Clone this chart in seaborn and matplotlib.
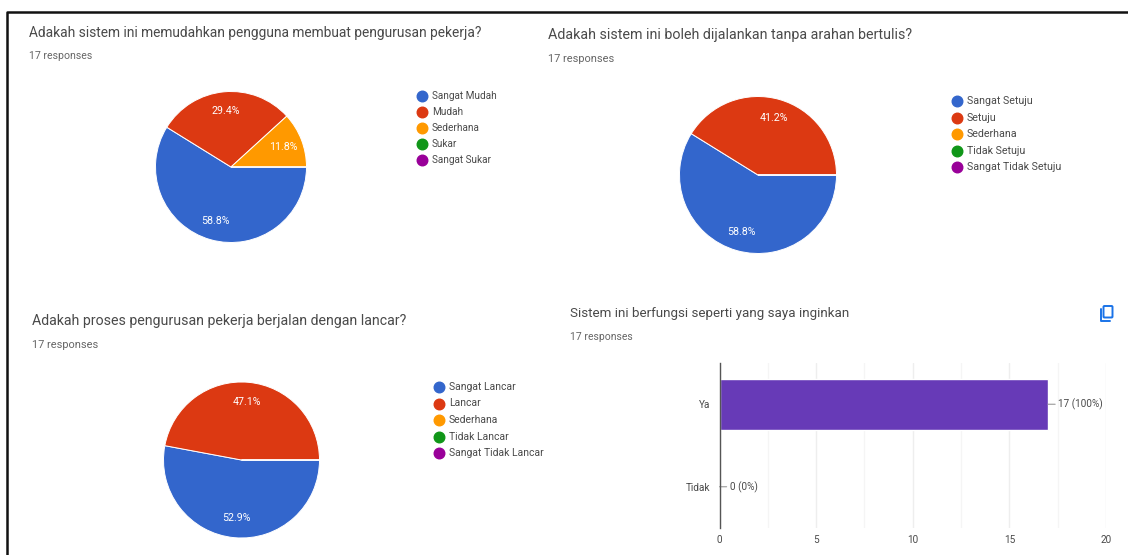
import matplotlib
matplotlib.use('Agg')
import matplotlib.pyplot as plt
from matplotlib.lines import Line2D
from matplotlib.patches import FancyBboxPatch
import pandas as pd
import seaborn as sns

# Survey answers
title_1 = "Adakah sistem ini memudahkan pengguna membuat pengurusan pekerja?"
labels_1 = ['Sangat Mudah', 'Mudah', 'Sederhana', 'Sukar', 'Sangat Sukar']
counts_1 = [10, 5, 2, 0, 0]

title_2 = "Adakah sistem ini boleh dijalankan tanpa arahan bertulis?"
labels_2 = ['Sangat Setuju', 'Setuju', 'Sederhana', 'Tidak Setuju', 'Sangat Tidak Setuju']
counts_2 = [10, 7, 0, 0, 0]

title_3 = "Adakah proses pengurusan pekerja berjalan dengan lancar?"
labels_3 = ['Sangat Lancar', 'Lancar', 'Sederhana', 'Tidak Lancar', 'Sangat Tidak Lancar']
counts_3 = [9, 8, 0, 0, 0]

title_4 = "Sistem ini berfungsi seperti yang saya inginkan"
labels_4 = ['Ya', 'Tidak']
counts_4 = [17, 0]
bar_text_4 = ['17 (100%)', '0 (0%)']
ticks_4 = [0, 5, 10, 15, 20]
minor_ticks_4 = [2.5, 7.5, 12.5, 17.5]

responses = "17 responses"
colors = ['#3366cc', '#dc3912', '#ff9900', '#109618', '#990099']
bar_color = '#673ab7'
text_color = '#4a4a4a'

W, H = 1128, 555

sns.set_theme(style='white')
plt.rcParams['font.family'] = ['Roboto', 'DejaVu Sans']

fig = plt.figure(figsize=(W / 100, H / 100), dpi=100)


def fx(x):
    return x / W


def fy(y):
    return 1 - y / H


def header(title, x, y_title, y_resp, title_size, resp_size):
    fig.text(fx(x), fy(y_title), title, fontsize=title_size, color=text_color, va='center')
    fig.text(fx(x), fy(y_resp), responses, fontsize=resp_size, color='#666666', va='center')


def draw_pie(counts, labels, cx, cy, r, leg_x, leg_y, leg_step, leg_size):
    pad = 1.04
    ax = fig.add_axes([fx(cx - r * pad), fy(cy + r * pad), 2 * r * pad / W, 2 * r * pad / H])
    wedges, texts, pcts = ax.pie(
        counts,
        colors=colors,
        startangle=0,
        counterclock=False,
        radius=1,
        autopct=lambda p: f'{p:.1f}%' if p > 0 else '',
        pctdistance=0.75,
        wedgeprops={'edgecolor': 'white', 'linewidth': 0.7},
        textprops={'fontsize': 7.7, 'color': 'white'},
    )
    ax.set_xlim(-pad, pad)
    ax.set_ylim(-pad, pad)
    # legend entries are spaced by hand like the google forms one
    for i, name in enumerate(labels):
        y = leg_y + i * leg_step
        fig.add_artist(Line2D([fx(leg_x)], [fy(y)], marker='o', ms=7.6, color=colors[i], lw=0))
        fig.text(fx(leg_x + 10), fy(y), name, fontsize=leg_size, color=text_color, va='center')


# Pie charts
header(title_1, 29, 32.5, 56, 9.9, 7.6)
draw_pie(counts_1, labels_1, 231, 167, 75.5, 422, 96, 16.0, 7.2)

header(title_2, 548, 35, 59, 10.25, 7.9)
draw_pie(counts_2, labels_2, 758, 175, 78.5, 957, 101, 16.5, 7.7)

header(title_3, 32, 321.5, 345.5, 10.2, 7.9)
draw_pie(counts_3, labels_3, 241.5, 460, 78, 439, 387, 16.5, 7.5)

# Bar chart
header(title_4, 570.5, 313.5, 336.5, 9.6, 7.45)
ax = fig.add_axes([fx(719.5), fy(528), (1106 - 719.5) / W, 165 / H])
df = pd.DataFrame({'answer': labels_4, 'count': counts_4})
sns.barplot(data=df, y='answer', x='count', color=bar_color, saturation=1, width=0.62, ax=ax, zorder=3)
ax.set_xlim(0, 20)
ax.set_xticks(ticks_4)
ax.set_xticks(minor_ticks_4, minor=True)
ax.set_xlabel('')
ax.set_ylabel('')
ax.grid(True, axis='x', which='major', color='#eeeeee', lw=1)
ax.grid(True, axis='x', which='minor', color='#f5f5f5', lw=1)
ax.tick_params(axis='both', which='both', length=0, labelsize=7.2, labelcolor=text_color)
ax.tick_params(axis='x', pad=5)
ax.tick_params(axis='y', pad=6.5)
for side in ['top', 'right', 'bottom']:
    ax.spines[side].set_visible(False)
ax.spines['left'].set_color('#555555')
ax.spines['left'].set_linewidth(1)
ax.spines['left'].set_zorder(5)

for i, val in enumerate(counts_4):
    ax.annotate(
        bar_text_4[i],
        (val, i),
        xytext=(7.5, 0),
        textcoords='offset points',
        va='center',
        fontsize=7.2,
        color=text_color,
        annotation_clip=False,
        arrowprops={'arrowstyle': '-', 'color': '#999999', 'lw': 0.8, 'shrinkA': 0, 'shrinkB': 0},
    )

# Copy icon
icon = fig.add_axes([0, 0, 1, 1], facecolor='none')
icon.set_xlim(0, W)
icon.set_ylim(H, 0)
icon.axis('off')
icon.add_patch(FancyBboxPatch((1103.5, 306), 9, 11.5, boxstyle='round,pad=0,rounding_size=1',
                              fill=False, ec='#1a73e8', lw=1.4))
icon.plot([1100.5, 1100.5, 1110], [309, 320.5, 320.5], color='#1a73e8', lw=1.4)

# Screenshot frame
icon.plot([7, 7, W], [H, 11.5, 11.5], color='#111111', lw=1.8)

fig.savefig('out.png', dpi=100)
